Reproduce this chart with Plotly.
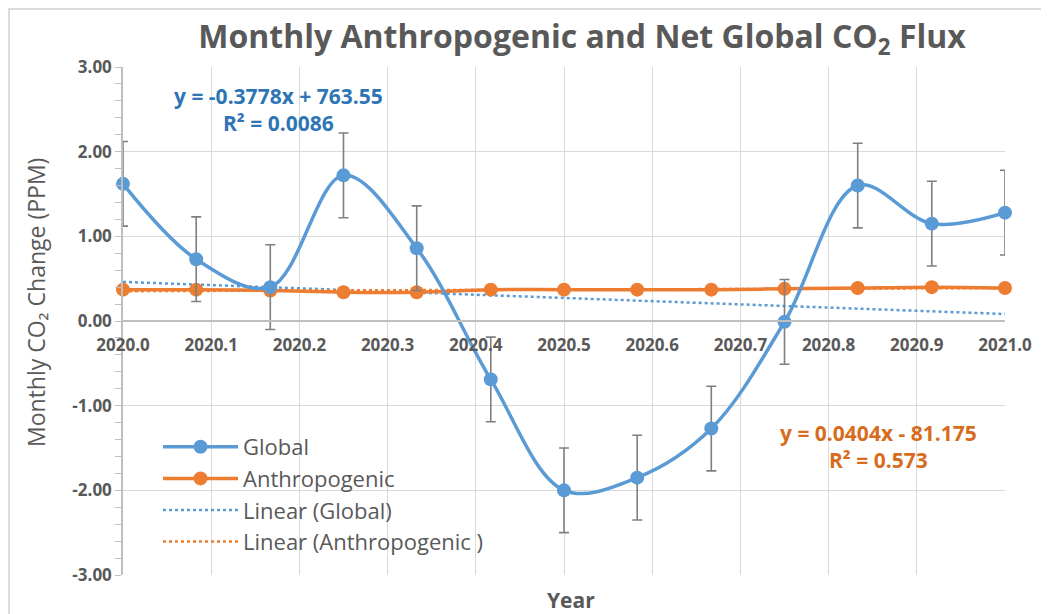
import numpy as np
import plotly.graph_objects as go

# ---- data ----
months = [2020.000, 2020.083, 2020.167, 2020.250, 2020.333, 2020.417, 2020.500,
          2020.583, 2020.667, 2020.750, 2020.833, 2020.917, 2021.000]
global_vals = [1.62, 0.73, 0.40, 1.72, 0.86, -0.69, -2.00, -1.85, -1.27, -0.01, 1.60, 1.15, 1.28]
global_err = [0.50, 0.50, 0.50, 0.50, 0.50, 0.50, 0.50, 0.50, 0.50, 0.50, 0.50, 0.50, 0.50]
anthro_vals = [0.37, 0.37, 0.36, 0.34, 0.34, 0.37, 0.37, 0.37, 0.37, 0.38, 0.39, 0.40, 0.39]
x_ticks = [2020.0, 2020.1, 2020.2, 2020.3, 2020.4, 2020.5, 2020.6, 2020.7, 2020.8, 2020.9, 2021.0]
y_ticks = [-3, -2, -1, 0, 1, 2, 3]
y_tick_labels = ["-3.00", "-2.00", "-1.00", "0.00", "1.00", "2.00", "3.00"]
eq_global = "y = -0.3778x + 763.55<br>R² = 0.0086"
eq_anthro = "y = 0.0404x - 81.175<br>R² = 0.573"

BLUE = "#5B9BD5"
ORANGE = "#ED7D31"
GRAY_TXT = "#595959"
FONT = "Open Sans"

# linear trendlines (least squares, as the spreadsheet does)
xs = np.array(months)
trend_x = [xs.min(), xs.max()]
pg = np.polyfit(xs, np.array(global_vals), 1)
pa = np.polyfit(xs, np.array(anthro_vals), 1)
trend_g = np.polyval(pg, trend_x)
trend_a = np.polyval(pa, trend_x)

fig = go.Figure()

fig.add_trace(go.Scatter(
    x=trend_x, y=trend_g, mode="lines", name="Linear (Global)",
    line=dict(color=BLUE, width=2.5, dash="dot"), legendrank=3, cliponaxis=False))

fig.add_trace(go.Scatter(
    x=months, y=anthro_vals, mode="lines+markers", name="Anthropogenic",
    line=dict(color=ORANGE, width=3.5, shape="spline", smoothing=1),
    marker=dict(color=ORANGE, size=14), legendrank=2, cliponaxis=False))

fig.add_trace(go.Scatter(
    x=trend_x, y=trend_a, mode="lines", name="Linear (Anthropogenic )",
    line=dict(color=ORANGE, width=2.5, dash="dot"), legendrank=4, cliponaxis=False))

fig.add_trace(go.Scatter(
    x=months, y=global_vals, mode="lines+markers", name="Global",
    line=dict(color=BLUE, width=3.5, shape="spline", smoothing=1),
    marker=dict(color=BLUE, size=14),
    error_y=dict(type="data", array=global_err, visible=True,
                 color="#7F7F7F", thickness=1.6, width=5),
    legendrank=1, cliponaxis=False))

# page offset of the plot div (body margin)
OFF = 8
W, H = 1049 - OFF, 614 - OFF
L, T = 123 - OFF, 67 - OFF
pw, ph = 882, 508
R = W - L - pw
B = H - T - ph

def px(xp):
    return (xp - 123) / pw

def py(yp):
    return (575 - yp) / ph

fig.update_layout(
    width=W, height=H,
    margin=dict(l=L, r=R, t=T, b=B, autoexpand=False),
    paper_bgcolor="white", plot_bgcolor="white",
    font=dict(family=FONT, color=GRAY_TXT),
    title=dict(text="Monthly Anthropogenic and Net Global CO<sub>2</sub> Flux",
               x=(582 - OFF) / W, xanchor="center", y=1 - (37 - OFF) / H, yanchor="middle",
               xref="container", yref="container",
               font=dict(family=FONT, size=32, color=GRAY_TXT, weight="bold")),
    showlegend=True,
    legend=dict(x=px(158), y=py(426), xanchor="left", yanchor="top",
                bgcolor="rgba(0,0,0,0)", itemwidth=75,
                font=dict(family=FONT, size=22, color=GRAY_TXT),
                tracegroupgap=6),
    xaxis=dict(range=[2020.0, 2021.0], tickvals=x_ticks, tickformat=".1f",
               showgrid=True, gridcolor="#D9D9D9", gridwidth=1,
               anchor="free", position=0.5, showline=True, linecolor="#BFBFBF", linewidth=2,
               zeroline=False, ticks="", ticklabelstandoff=9,
               tickfont=dict(family=FONT, size=17, color=GRAY_TXT, weight="bold")),
    yaxis=dict(range=[-3, 3], tickvals=y_ticks, ticktext=y_tick_labels,
               showgrid=True, gridcolor="#D9D9D9", gridwidth=1,
               showline=True, linecolor="#BFBFBF", linewidth=1.5,
               zeroline=False, ticks="outside", ticklen=6, tickcolor="#BFBFBF",
               minor=dict(dtick=0.2, ticks="outside", ticklen=6, tickcolor="#BFBFBF", showgrid=False),
               tickfont=dict(family=FONT, size=17, color=GRAY_TXT, weight="bold")),
    annotations=[
        dict(text=eq_global, x=px(278), y=py(110), xref="paper", yref="paper",
             xanchor="center", yanchor="middle",
             showarrow=False, align="center",
             font=dict(family=FONT, size=21, color="#2E75B6", weight="bold")),
        dict(text=eq_anthro, x=px(878), y=py(446), xref="paper", yref="paper",
             xanchor="center", yanchor="middle",
             showarrow=False, align="center",
             font=dict(family=FONT, size=21, color="#D86C1E", weight="bold")),
        dict(text="Year", x=px(571), y=py(600), xref="paper", yref="paper",
             xanchor="center", yanchor="middle",
             showarrow=False, font=dict(family=FONT, size=21, color=GRAY_TXT, weight="bold")),
        dict(text="Monthly CO₂ Change (PPM)", x=px(36), y=py(303), xref="paper", yref="paper",
             xanchor="center", yanchor="middle",
             showarrow=False, textangle=-90,
             font=dict(family=FONT, size=23, color=GRAY_TXT)),
    ],
    shapes=[dict(type="rect", xref="paper", yref="paper",
                 x0=px(9), x1=px(1060), y0=py(625), y1=py(9),
                 line=dict(color="#D0D0D0", width=1.5), fillcolor="rgba(0,0,0,0)", layer="below")],
)

fig.write_html("out.html")
